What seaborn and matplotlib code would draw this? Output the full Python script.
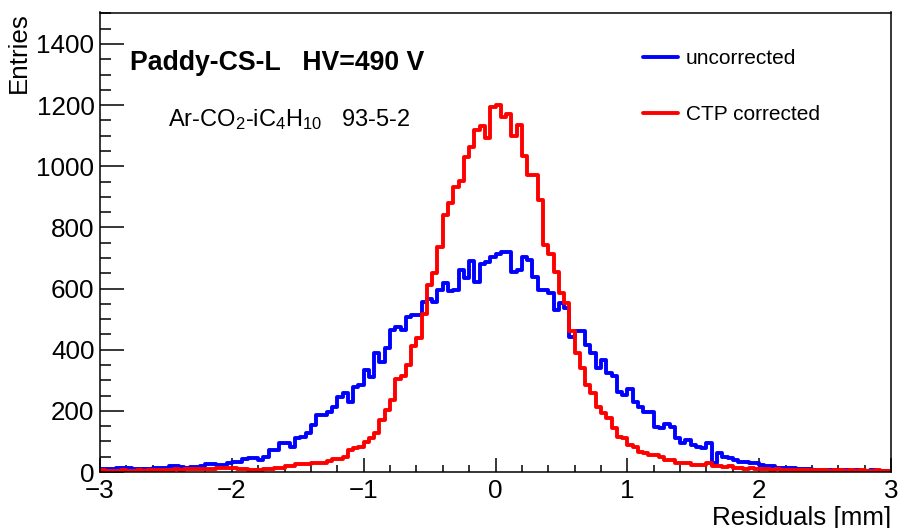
import numpy as np
import pandas as pd
import matplotlib
matplotlib.use("Agg")
import matplotlib.pyplot as plt
from matplotlib.lines import Line2D
from matplotlib.ticker import MultipleLocator
import seaborn as sns

# ---------------- data (150 bins, -3 .. 3 mm, width 0.04 mm) ----------------
x_min, x_max, n_bins = -3.0, 3.0, 150

uncorrected = [
    9, 9, 9, 12, 12, 12, 9, 9, 9, 9,
    14, 14, 14, 20, 20, 15, 12, 17, 17, 20,
    26, 26, 23, 23, 30, 34, 34, 43, 45, 45,
    39, 50, 72, 72, 94, 94, 83, 110, 116, 126,
    154, 186, 186, 195, 214, 246, 259, 230, 279, 285,
    334, 312, 388, 361, 405, 464, 475, 464, 508, 513,
    515, 557, 567, 557, 595, 617, 592, 595, 661, 634,
    691, 623, 680, 688, 704, 712, 721, 719, 655, 660,
    704, 693, 637, 595, 595, 584, 530, 552, 535, 443,
    460, 462, 415, 388, 340, 366, 325, 314, 263, 252,
    270, 230, 214, 197, 197, 148, 143, 157, 146, 110,
    94, 105, 88, 83, 77, 94, 28, 63, 50, 45,
    39, 34, 34, 30, 30, 23, 20, 20, 12, 14,
    12, 12, 10, 10, 9, 8, 8, 6, 7, 5,
    5, 6, 4, 5, 4, 3, 5, 4, 3, 4,
]

ctp_corrected = [
    5, 3, 4, 3, 5, 3, 4, 5, 4, 5,
    6, 5, 8, 8, 9, 8, 9, 9, 10, 9,
    9, 10, 14, 14, 14, 14, 9, 9, 5, 5,
    5, 9, 9, 14, 14, 20, 20, 26, 26, 26,
    29, 29, 29, 35, 44, 44, 50, 72, 79, 83,
    99, 110, 129, 170, 203, 235, 303, 315, 350, 412,
    437, 516, 612, 650, 737, 841, 879, 933, 953, 1031,
    1064, 1119, 1132, 1093, 1193, 1202, 1160, 1172, 1100, 1134,
    1033, 970, 970, 890, 742, 712, 654, 585, 552, 462,
    388, 339, 285, 257, 214, 192, 176, 143, 116, 110,
    88, 83, 67, 61, 56, 56, 50, 39, 39, 28,
    28, 28, 23, 23, 23, 28, 18, 20, 15, 18,
    12, 14, 10, 12, 10, 9, 10, 8, 9, 7,
    8, 6, 7, 5, 6, 5, 7, 5, 4, 6,
    5, 4, 5, 3, 5, 4, 3, 5, 4, 3,
]

series_labels = ["uncorrected", "CTP corrected"]
title_text = "Paddy-CS-L   HV=490 V"
gas_text = r"Ar-CO$_2$-iC$_4$H$_{10}$   93-5-2"

edges = np.linspace(x_min, x_max, n_bins + 1)
centers = 0.5 * (edges[:-1] + edges[1:])
df = pd.DataFrame({"center": centers,
                   "uncorrected": np.asarray(uncorrected, dtype=float),
                   "corrected": np.asarray(ctp_corrected, dtype=float)})

# ---------------- style ----------------
sns.set_theme(style="white")
plt.rcParams["font.family"] = ["Liberation Sans", "DejaVu Sans"]
plt.rcParams["mathtext.default"] = "regular"
plt.rcParams["axes.unicode_minus"] = True
plt.rcParams["text.color"] = "black"
plt.rcParams["axes.labelcolor"] = "black"
plt.rcParams["xtick.color"] = "black"
plt.rcParams["ytick.color"] = "black"

fig = plt.figure(figsize=(8.99, 5.28), dpi=100)
ax = fig.add_axes([100 / 899, 1 - 472 / 528, 791 / 899, (472 - 12.5) / 528])

blue = "#0000ff"
red = "#ff0000"
sns.histplot(data=df, x="center", weights="uncorrected", bins=n_bins,
             binrange=(x_min, x_max), element="step", fill=False,
             color=blue, linewidth=2.8, ax=ax)
sns.histplot(data=df, x="center", weights="corrected", bins=n_bins,
             binrange=(x_min, x_max), element="step", fill=False,
             color=red, linewidth=2.8, ax=ax)

ax.set_xlim(x_min, x_max)
ax.set_ylim(0, 1503)

fs = 18.7
ax.xaxis.set_major_locator(MultipleLocator(1))
ax.xaxis.set_minor_locator(MultipleLocator(0.2))
ax.yaxis.set_major_locator(MultipleLocator(200))
ax.yaxis.set_minor_locator(MultipleLocator(50))
ax.tick_params(axis="x", which="major", direction="in", length=10, width=1.1,
               labelsize=fs, pad=5, color="black", labelcolor="black",
               bottom=True, top=False)
ax.tick_params(axis="x", which="minor", direction="in", length=5, width=1.1,
               bottom=True, top=False, color="black")
ax.tick_params(axis="y", which="major", direction="in", length=17, width=1.1,
               labelsize=fs, pad=4, color="black", labelcolor="black",
               left=True, right=False)
ax.tick_params(axis="y", which="minor", direction="in", length=8, width=1.1,
               left=True, right=False, color="black")

for sp in ax.spines.values():
    sp.set_color("black")
    sp.set_linewidth(1.1)

ax.set_xlabel("Residuals [mm]", fontsize=fs, loc="right", labelpad=2,
              color="black")
ax.set_ylabel("Entries", fontsize=fs, loc="top", labelpad=4, color="black")

fig.text(130 / 899, 1 - 63 / 528, title_text, fontsize=19.2, fontweight="bold",
         ha="left", va="center", color="black")
fig.text(168 / 899, 1 - 126 / 528, gas_text, fontsize=17, ha="left",
         va="baseline", color="black")

handles = [Line2D([], [], color=blue, linewidth=2.8),
           Line2D([], [], color=red, linewidth=2.8)]
leg = ax.legend(handles, series_labels, frameon=False, fontsize=15,
                loc="upper left", bbox_to_anchor=(643 / 899, 1 - 49 / 528),
                bbox_transform=fig.transFigure, borderpad=0, borderaxespad=0,
                handlelength=1.67, handletextpad=0.38, labelspacing=1.8)
for t in leg.get_texts():
    t.set_color("black")

fig.savefig("out.png", dpi=100)
